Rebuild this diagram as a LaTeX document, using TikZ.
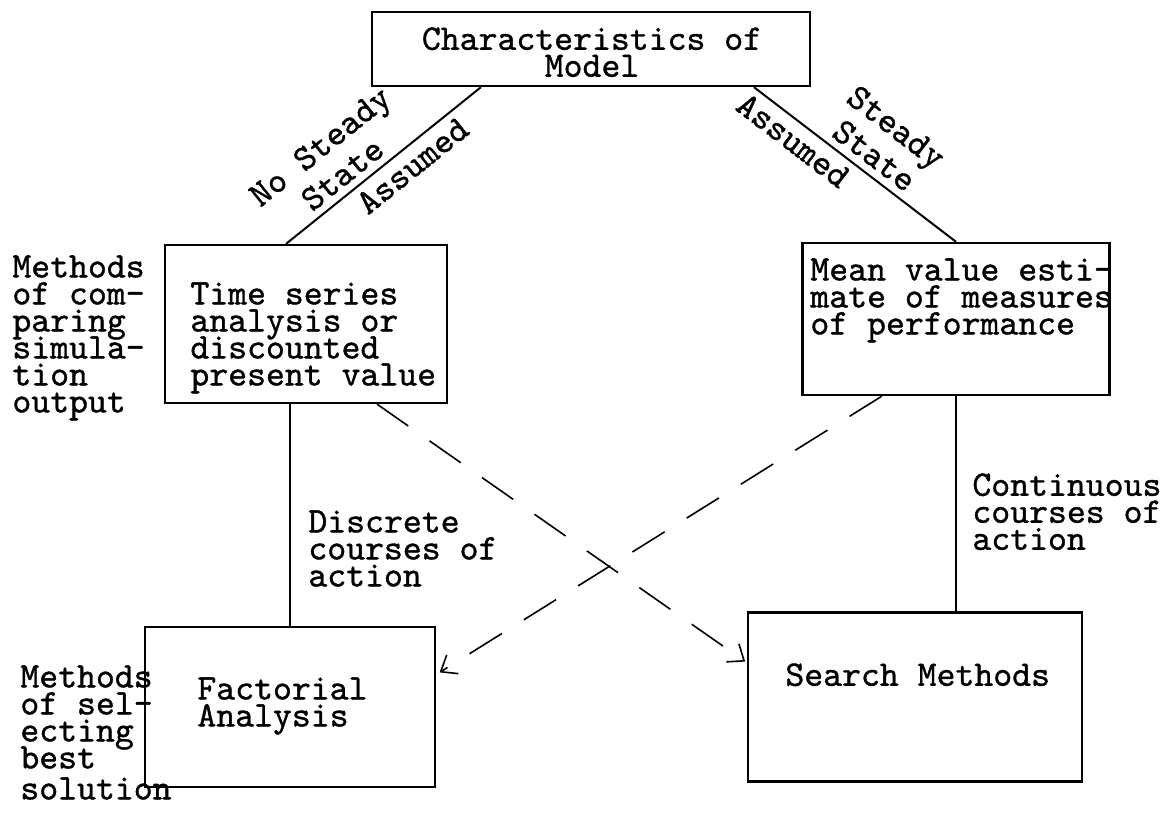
\documentclass[tikz,border=0pt]{standalone}
\usepackage{fontspec}
\newfontfamily\twfont{lmmono10-regular}[Extension=.otf,FakeBold=1]
\usepackage{tikz}
\usetikzlibrary{arrows.meta,calc}
\newcommand{\tw}{\twfont\fontsize{18pt}{13.5pt}\selectfont\lineskiplimit=-20pt\relax}

\begin{document}
\begin{tikzpicture}[x=0.5pt,y=-0.5pt,every node/.style={font=\tw},
    box/.style={draw,line width=1.2pt,inner sep=0pt},
    txt/.style={inner sep=0pt,align=left,anchor=north west},
    link/.style={line width=1pt},
    dashlink/.style={line width=0.8pt,dash pattern=on 19pt off 13pt,
      -{Straight Barb[length=7pt,width=11pt]}}]
  \useasboundingbox (0,0) rectangle (1176,815);
  % boxes
  \node[box,minimum width=219pt,minimum height=37pt] (cm) at (591,49) {};
  \node[box,minimum width=141pt,minimum height=79pt] (ts) at (306,324) {};
  \node[box,minimum width=153.5pt,minimum height=76pt] (mv) at (956,319) {};
  \node[box,minimum width=145pt,minimum height=80pt] (fa) at (290,707) {};
  \node[box,minimum width=167pt,minimum height=84.5pt] (sm) at (915,697) {};
  % box texts
  \node[inner sep=0pt,align=center,anchor=north] (cmT) at (592,27) {Characteristics of\\Model};
  \node[txt] (tsT) at (190,282) {Time series\\analysis or\\discounted\\present value};
  \node[txt] (mvT) at (810,258) {Mean value esti-\\mate of measures\\of performance};
  \node[txt] (faT) at (197,677) {Factorial\\Analysis};
  \node[txt] (smT) at (785,663) {Search Methods};
  % side texts
  \node[txt] (cmpL) at (12,255) {Methods\\of com-\\paring\\simula-\\tion\\output};
  \node[txt] (selL) at (20,665) {Methods\\of sel-\\ecting\\best\\[2pt]solution};
  \node[txt] (discL) at (308,510) {Discrete\\courses of\\action};
  \node[txt] (contL) at (972,473) {Continuous\\courses of\\action};
  % connectors
  \draw[link] ($(cm.south west)!0.25!(cm.south east)$) -- ($(ts.north west)!0.43!(ts.north east)$)
    node[pos=0.65,sloped,above,align=center]{No Steady\\[4.5pt]State}
    node[pos=0.41,sloped,below,inner sep=3pt]{Assumed};
  \draw[link] ($(cm.south west)!0.87!(cm.south east)$) -- (mv.north)
    node[pos=0.54,sloped,above,align=center]{Steady\\[4.5pt]State}
    node[pos=0.25,sloped,below,inner sep=3pt]{Assumed};
  \draw[link] (fa.north) -- (fa.north |- ts.south);
  \draw[link] (mv.south) -- (mv.south |- sm.north);
  \draw[dashlink,shorten >=1pt] ($(ts.south west)!0.75!(ts.south east)$) -- ($(sm.north west)!0.3!(sm.south west)$);
  \draw[dashlink,shorten >=2pt] ($(mv.south west)!0.26!(mv.south east)$) -- ($(fa.north east)!0.3!(fa.south east)$);
\end{tikzpicture}
\end{document}
